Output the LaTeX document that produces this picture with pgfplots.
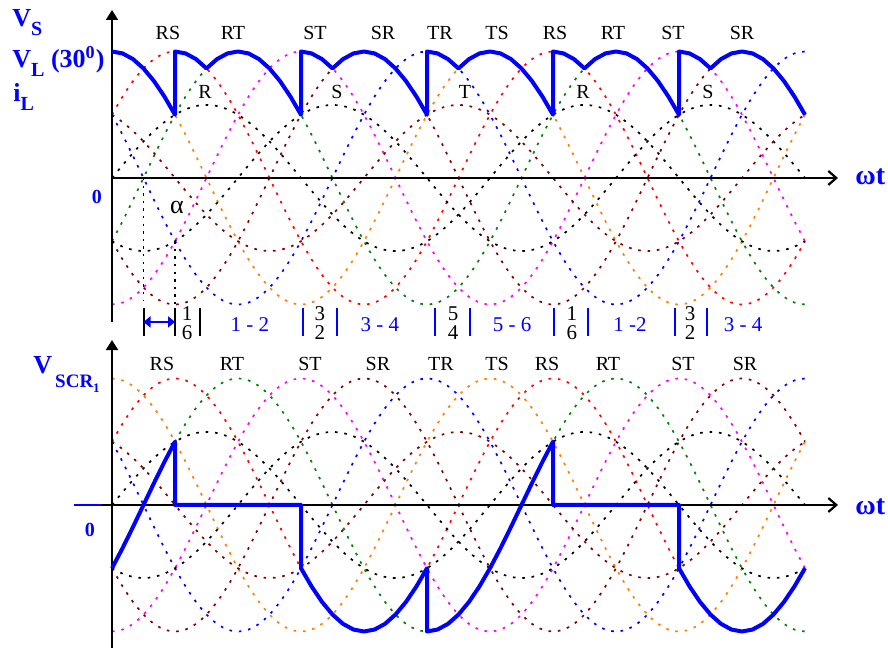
\documentclass[border=0pt]{standalone}
\usepackage{pgfplots}
\pgfplotsset{compat=1.18}
\usepackage{pgfplotstable}
\usepackage{fontspec}
\setmainfont{Liberation Serif}
\usetikzlibrary{arrows.meta}

\definecolor{cRS}{RGB}{255,0,0}
\definecolor{cRT}{RGB}{0,128,0}
\definecolor{cST}{RGB}{255,0,255}
\definecolor{cSR}{RGB}{128,0,0}
\definecolor{cTR}{RGB}{0,0,255}
\definecolor{cTS}{RGB}{255,128,0}
\definecolor{cT}{RGB}{128,0,0}
\definecolor{myblue}{RGB}{0,0,255}

\newcommand{\fs}[1]{\fontsize{#1}{#1}\selectfont}
\newcommand{\lsub}[1]{\raisebox{-4.5pt}{\fs{10}#1}}

% one sampled cosine wave: u (deg), c = line-voltage value, p = phase-voltage value
\pgfplotstableread{
u c p
-330 0.8660 0.5000
-320 0.7660 0.4423
-310 0.6428 0.3711
-300 0.5000 0.2887
-290 0.3420 0.1975
-280 0.1736 0.1002
-270 0 0
-260 -0.1736 -0.1002
-250 -0.3420 -0.1975
-240 -0.5000 -0.2887
-230 -0.6428 -0.3711
-220 -0.7660 -0.4423
-210 -0.8660 -0.5000
-200 -0.9397 -0.5426
-190 -0.9848 -0.5686
-180 -1 -0.5774
-170 -0.9848 -0.5686
-160 -0.9397 -0.5426
-150 -0.8660 -0.5000
-140 -0.7660 -0.4423
-130 -0.6428 -0.3711
-120 -0.5000 -0.2887
-110 -0.3420 -0.1975
-100 -0.1736 -0.1002
-90 0 0
-80 0.1736 0.1002
-70 0.3420 0.1975
-60 0.5000 0.2887
-50 0.6428 0.3711
-40 0.7660 0.4423
-30 0.8660 0.5000
-20 0.9397 0.5426
-10 0.9848 0.5686
0 1 0.5774
10 0.9848 0.5686
20 0.9397 0.5426
30 0.8660 0.5000
40 0.7660 0.4423
50 0.6428 0.3711
60 0.5000 0.2887
70 0.3420 0.1975
80 0.1736 0.1002
90 0 0
100 -0.1736 -0.1002
110 -0.3420 -0.1975
120 -0.5000 -0.2887
130 -0.6428 -0.3711
140 -0.7660 -0.4423
150 -0.8660 -0.5000
160 -0.9397 -0.5426
170 -0.9848 -0.5686
180 -1 -0.5774
190 -0.9848 -0.5686
200 -0.9397 -0.5426
210 -0.8660 -0.5000
220 -0.7660 -0.4423
230 -0.6428 -0.3711
240 -0.5000 -0.2887
250 -0.3420 -0.1975
260 -0.1736 -0.1002
270 0 0
280 0.1736 0.1002
290 0.3420 0.1975
300 0.5000 0.2887
310 0.6428 0.3711
320 0.7660 0.4423
330 0.8660 0.5000
340 0.9397 0.5426
350 0.9848 0.5686
360 1 0.5774
370 0.9848 0.5686
380 0.9397 0.5426
390 0.8660 0.5000
400 0.7660 0.4423
410 0.6428 0.3711
420 0.5000 0.2887
430 0.3420 0.1975
440 0.1736 0.1002
450 0 0
460 -0.1736 -0.1002
470 -0.3420 -0.1975
480 -0.5000 -0.2887
490 -0.6428 -0.3711
500 -0.7660 -0.4423
510 -0.8660 -0.5000
520 -0.9397 -0.5426
530 -0.9848 -0.5686
540 -1 -0.5774
550 -0.9848 -0.5686
560 -0.9397 -0.5426
570 -0.8660 -0.5000
580 -0.7660 -0.4423
590 -0.6428 -0.3711
600 -0.5000 -0.2887
610 -0.3420 -0.1975
620 -0.1736 -0.1002
630 0 0
640 0.1736 0.1002
650 0.3420 0.1975
660 0.5000 0.2887
}\cosdata

\pgfplotsset{
  dotc/.style={line width=0.85pt, dash pattern=on 1.3pt off 3.4pt, smooth, no markers, restrict x to domain=-0.01:660.01},
  panel/.style={hide axis, scale only axis, x=0.525pt, y=63.25pt,
    xmin=-106.667, xmax=739.048, clip=false, anchor=south west},
}

\newcommand{\bgcurves}{%
  \addplot[dotc, cTS] table[x expr=\thisrow{u}+0,   y=c] {\cosdata};
  \addplot[dotc, cRS] table[x expr=\thisrow{u}+60,  y=c] {\cosdata};
  \addplot[dotc, cRT] table[x expr=\thisrow{u}+120, y=c] {\cosdata};
  \addplot[dotc, cST] table[x expr=\thisrow{u}+180, y=c] {\cosdata};
  \addplot[dotc, cSR] table[x expr=\thisrow{u}+240, y=c] {\cosdata};
  \addplot[dotc, cTR] table[x expr=\thisrow{u}+300, y=c] {\cosdata};
  \addplot[dotc, black] table[x expr=\thisrow{u}+90,  y=p] {\cosdata};
  \addplot[dotc, black] table[x expr=\thisrow{u}+210, y=p] {\cosdata};
  \addplot[dotc, cT]    table[x expr=\thisrow{u}+330, y=p] {\cosdata};
}

\begin{document}
\begin{tikzpicture}
\path[use as bounding box] (0,0) rectangle (444pt,325.5pt);

% ---------------- top panel ----------------
\begin{axis}[panel, at={(0pt,155.5pt)}, ymin=-1.2806, ymax=1.4071]
\bgcurves
\draw[line width=1pt, -{Triangle[length=5pt,width=6pt]}] (axis cs:0,-1.138) -- (axis cs:0,1.328);
\draw[line width=1.1pt, -{Straight Barb[length=4pt,width=7pt]}] (axis cs:0,0) -- (axis cs:691.4,0);
\draw[black, line width=0.9pt, dash pattern=on 1.2pt off 2.6pt] (axis cs:30,0) -- (axis cs:30,-0.964);
\draw[black, line width=0.9pt, dash pattern=on 1.2pt off 2.6pt] (axis cs:60,-0.5) -- (axis cs:60,-1.0);

\addplot[myblue, line width=2pt, line join=round] coordinates {
(0,1)(10,0.9848)(20,0.9397)(30,0.8660)(40,0.7660)(50,0.6428)(60,0.5)
(60,1)(70,0.9848)(80,0.9397)(90,0.8660)
(100,0.9397)(110,0.9848)(120,1)(130,0.9848)(140,0.9397)(150,0.8660)(160,0.7660)(170,0.6428)(180,0.5)
(180,1)(190,0.9848)(200,0.9397)(210,0.8660)
(220,0.9397)(230,0.9848)(240,1)(250,0.9848)(260,0.9397)(270,0.8660)(280,0.7660)(290,0.6428)(300,0.5)
(300,1)(310,0.9848)(320,0.9397)(330,0.8660)
(340,0.9397)(350,0.9848)(360,1)(370,0.9848)(380,0.9397)(390,0.8660)(400,0.7660)(410,0.6428)(420,0.5)
(420,1)(430,0.9848)(440,0.9397)(450,0.8660)
(460,0.9397)(470,0.9848)(480,1)(490,0.9848)(500,0.9397)(510,0.8660)(520,0.7660)(530,0.6428)(540,0.5)
(540,1)(550,0.9848)(560,0.9397)(570,0.8660)
(580,0.9397)(590,0.9848)(600,1)(610,0.9848)(620,0.9397)(630,0.8660)(640,0.7660)(650,0.6428)(660,0.5)
};

% line-voltage labels
\node[anchor=base, font=\fs{10}] at (axis cs:53.3,1.091) {RS};
\node[anchor=base, font=\fs{10}] at (axis cs:115.2,1.091) {RT};
\node[anchor=base, font=\fs{10}] at (axis cs:193.3,1.091) {ST};
\node[anchor=base, font=\fs{10}] at (axis cs:258.1,1.091) {SR};
\node[anchor=base, font=\fs{10}] at (axis cs:312.4,1.091) {TR};
\node[anchor=base, font=\fs{10}] at (axis cs:366.7,1.091) {TS};
\node[anchor=base, font=\fs{10}] at (axis cs:421.9,1.091) {RS};
\node[anchor=base, font=\fs{10}] at (axis cs:477.1,1.091) {RT};
\node[anchor=base, font=\fs{10}] at (axis cs:534.3,1.091) {ST};
\node[anchor=base, font=\fs{10}] at (axis cs:600,1.091) {SR};
% phase labels
\node[anchor=base, font=\fs{10}] at (axis cs:88.6,0.625) {R};
\node[anchor=base, font=\fs{10}] at (axis cs:214.3,0.625) {S};
\node[anchor=base, font=\fs{10}] at (axis cs:336.2,0.625) {T};
\node[anchor=base, font=\fs{10}] at (axis cs:448.6,0.625) {R};
\node[anchor=base, font=\fs{10}] at (axis cs:567.6,0.625) {S};
\node[font=\fs{13}] at (axis cs:61.9,-0.237) {α};

% left labels
\node[anchor=base west, inner sep=0pt, text=myblue, font=\bfseries\fs{13}] at (axis cs:-95.2,1.194) {V\lsub{S}};
\node[anchor=base west, inner sep=0pt, text=myblue, font=\bfseries\fs{13}] at (axis cs:-95.2,0.877) {V\lsub{L} (30\textsuperscript{0})};
\node[anchor=base west, inner sep=0pt, text=myblue, font=\bfseries\fs{13}] at (axis cs:-94.3,0.601) {i\lsub{L}};
\node[text=myblue, font=\bfseries\fs{10}] at (axis cs:-14.3,-0.150) {0};
\node[anchor=base west, inner sep=0pt, text=myblue, font=\bfseries\fs{14}] at (axis cs:707.6,-0.055) {ωt};

% conduction intervals row
\draw[black, line width=1pt] (axis cs:30,-1.028) -- (axis cs:30,-1.249);
\draw[black, line width=1pt] (axis cs:60,-1.028) -- (axis cs:60,-1.249);
\draw[black, line width=1pt] (axis cs:84,-1.028) -- (axis cs:84,-1.249);
\draw[myblue, line width=1pt] (axis cs:182,-1.028) -- (axis cs:182,-1.249);
\draw[myblue, line width=1pt] (axis cs:214.3,-1.028) -- (axis cs:214.3,-1.249);
\draw[myblue, line width=1pt] (axis cs:307.6,-1.028) -- (axis cs:307.6,-1.249);
\draw[myblue, line width=1pt] (axis cs:341,-1.028) -- (axis cs:341,-1.249);
\draw[myblue, line width=1pt] (axis cs:421,-1.028) -- (axis cs:421,-1.249);
\draw[myblue, line width=1pt] (axis cs:453.3,-1.028) -- (axis cs:453.3,-1.249);
\draw[myblue, line width=1pt] (axis cs:536.2,-1.028) -- (axis cs:536.2,-1.249);
\draw[myblue, line width=1pt] (axis cs:566.7,-1.028) -- (axis cs:566.7,-1.249);
\draw[myblue, line width=1pt, {Triangle[length=3.5pt,width=5.5pt]}-{Triangle[length=3.5pt,width=5.5pt]}] (axis cs:30,-1.138) -- (axis cs:60,-1.138);

\node[font=\fs{10.5}] at (axis cs:71.5,-1.07) {1};
\node[font=\fs{10.5}] at (axis cs:71.5,-1.222) {6};
\node[font=\fs{10.5}] at (axis cs:198,-1.07) {3};
\node[font=\fs{10.5}] at (axis cs:198,-1.222) {2};
\node[font=\fs{10.5}] at (axis cs:324.8,-1.07) {5};
\node[font=\fs{10.5}] at (axis cs:324.8,-1.222) {4};
\node[font=\fs{10.5}] at (axis cs:438,-1.07) {1};
\node[font=\fs{10.5}] at (axis cs:438,-1.222) {6};
\node[font=\fs{10.5}] at (axis cs:550.5,-1.07) {3};
\node[font=\fs{10.5}] at (axis cs:550.5,-1.222) {2};

\node[text=myblue, font=\fs{10.5}] at (axis cs:131.4,-1.162) {1 - 2};
\node[text=myblue, font=\fs{10.5}] at (axis cs:255.2,-1.162) {3 - 4};
\node[text=myblue, font=\fs{10.5}] at (axis cs:381,-1.162) {5 - 6};
\node[text=myblue, font=\fs{10.5}] at (axis cs:493.3,-1.162) {1 -2};
\node[text=myblue, font=\fs{10.5}] at (axis cs:601,-1.162) {3 - 4};
\end{axis}

% ---------------- bottom panel ----------------
\begin{axis}[panel, at={(0pt,0pt)}, ymin=-1.1542, ymax=1.3043]
\bgcurves
\draw[line width=1pt, -{Triangle[length=5pt,width=6pt]}] (axis cs:0,-1.13) -- (axis cs:0,1.304);
\draw[line width=1.1pt, -{Straight Barb[length=4pt,width=7pt]}] (axis cs:-9.5,0) -- (axis cs:691.4,0);
\draw[myblue, line width=1.1pt] (axis cs:-36.2,0) -- (axis cs:-9.5,0);

\addplot[myblue, line width=2pt, line join=round] coordinates {
(0,-0.5)(10,-0.3420)(20,-0.1736)(30,0)(40,0.1736)(50,0.3420)(60,0.5)
(60,0)(180,0)
(180,-0.5)(190,-0.6428)(200,-0.7660)(210,-0.8660)(220,-0.9397)(230,-0.9848)(240,-1)(250,-0.9848)(260,-0.9397)(270,-0.8660)(280,-0.7660)(290,-0.6428)(300,-0.5)
(300,-1)(310,-0.9848)(320,-0.9397)(330,-0.8660)(340,-0.7660)(350,-0.6428)(360,-0.5)(370,-0.3420)(380,-0.1736)(390,0)(400,0.1736)(410,0.3420)(420,0.5)
(420,0)(540,0)
(540,-0.5)(550,-0.6428)(560,-0.7660)(570,-0.8660)(580,-0.9397)(590,-0.9848)(600,-1)(610,-0.9848)(620,-0.9397)(630,-0.8660)(640,-0.7660)(650,-0.6428)(660,-0.5)
};

\node[anchor=base, font=\fs{10}] at (axis cs:47.6,1.067) {RS};
\node[anchor=base, font=\fs{10}] at (axis cs:114.3,1.067) {RT};
\node[anchor=base, font=\fs{10}] at (axis cs:188.6,1.067) {ST};
\node[anchor=base, font=\fs{10}] at (axis cs:253.3,1.067) {SR};
\node[anchor=base, font=\fs{10}] at (axis cs:313.3,1.067) {TR};
\node[anchor=base, font=\fs{10}] at (axis cs:366.7,1.067) {TS};
\node[anchor=base, font=\fs{10}] at (axis cs:414.3,1.067) {RS};
\node[anchor=base, font=\fs{10}] at (axis cs:472.4,1.067) {RT};
\node[anchor=base, font=\fs{10}] at (axis cs:543.8,1.067) {ST};
\node[anchor=base, font=\fs{10}] at (axis cs:602.9,1.067) {SR};

\node[anchor=base west, inner sep=0pt, text=myblue, font=\bfseries\fs{13}] at (axis cs:-75.2,1.043)
  {V\hspace{1.5pt}\raisebox{-1.2ex}{\fs{9.5}SCR\raisebox{-0.6ex}{\fs{6.5}1}}};
\node[text=myblue, font=\bfseries\fs{10}] at (axis cs:-21,-0.198) {0};
\node[anchor=base west, inner sep=0pt, text=myblue, font=\bfseries\fs{14}] at (axis cs:707.6,-0.079) {ωt};
\end{axis}
\end{tikzpicture}
\end{document}
